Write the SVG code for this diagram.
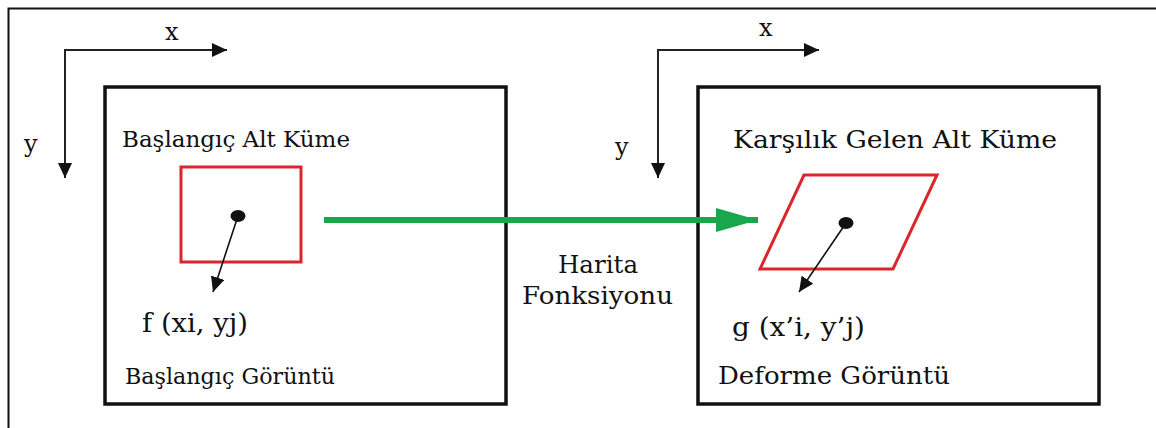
<svg xmlns="http://www.w3.org/2000/svg" width="1156" height="428" viewBox="0 0 1156 428">
<style>
text{font-family:'DejaVu Serif','Liberation Serif',serif;fill:#111;font-size:24px;}
.l{font-size:22.5px;}
.r{font-size:25px;}
.f{font-size:26px;}
.box{fill:none;stroke:#111;stroke-width:3.5;}
.ax{fill:none;stroke:#222;stroke-width:2;}
.red{fill:none;stroke:#d9262a;stroke-width:3;}
.pt{stroke:#111;stroke-width:1.6;fill:none;}
</style>
<defs>
<marker id="axh" viewBox="0 0 10 10" refX="10" refY="5" markerWidth="15" markerHeight="14" markerUnits="userSpaceOnUse" orient="auto" preserveAspectRatio="none"><path d="M0,0 L10,5 L0,10 z" fill="#111"/></marker>
<marker id="pth" viewBox="0 0 10 10" refX="10" refY="5" markerWidth="15" markerHeight="14" markerUnits="userSpaceOnUse" orient="auto" preserveAspectRatio="none"><path d="M0,0 L10,5 L0,10 z" fill="#111"/></marker>
<marker id="gh" viewBox="0 0 10 10" refX="10" refY="5" markerWidth="42" markerHeight="24" markerUnits="userSpaceOnUse" orient="auto" preserveAspectRatio="none"><path d="M0,0 L10,5 L0,10 z" fill="#1aa64a"/></marker>
</defs>
<rect width="1156" height="428" fill="#fff"/>
<polyline points="8.5,428 8.5,8.5 1156,8.5" fill="none" stroke="#111" stroke-width="2"/>

<g id="left-image">
<rect class="box" x="105" y="87" width="401" height="317"/>
<text class="l" x="122" y="147" textLength="228" lengthAdjust="spacingAndGlyphs">Başlangıç Alt Küme</text>
<rect class="red" x="181" y="167" width="120" height="95"/>
<text class="f" x="142" y="332" textLength="106" lengthAdjust="spacingAndGlyphs">f (xi, yj)</text>
<text class="l" x="125" y="384" textLength="210" lengthAdjust="spacingAndGlyphs">Başlangıç Görüntü</text>
</g>

<g id="left-axes">
<polyline class="ax" points="214,50 65,50 65,165"/>
<text x="165" y="40">x</text>
<text x="24" y="152">y</text>
</g>

<g id="right-image">
<rect class="box" x="698" y="87" width="401" height="317"/>
<text class="r" x="733" y="148" textLength="324" lengthAdjust="spacingAndGlyphs">Karşılık Gelen Alt Küme</text>
<polygon class="red" points="804,175 937,175 893,269 760,269"/>
<text class="f" x="732" y="336" textLength="133" lengthAdjust="spacingAndGlyphs">g (x’i, y’j)</text>
<text class="r" x="718" y="384" textLength="232" lengthAdjust="spacingAndGlyphs">Deforme Görüntü</text>
</g>

<g id="right-axes">
<polyline class="ax" points="806,50 658,50 658,165"/>
<text x="759" y="36">x</text>
<text x="615" y="155">y</text>
</g>

<g id="map-label">
<text class="r" x="558" y="273" textLength="80" lengthAdjust="spacingAndGlyphs">Harita</text>
<text class="r" x="522" y="304" textLength="151" lengthAdjust="spacingAndGlyphs">Fonksiyonu</text>
</g>

<g id="connectors">
<path d="M213,50 L227,50" stroke="#222" stroke-width="2" marker-end="url(#axh)"/>
<path d="M65,164 L65,178" stroke="#222" stroke-width="2" marker-end="url(#axh)"/>
<path d="M805,50 L819,50" stroke="#222" stroke-width="2" marker-end="url(#axh)"/>
<path d="M658,164 L658,178" stroke="#222" stroke-width="2" marker-end="url(#axh)"/>
<ellipse cx="238" cy="216" rx="7.5" ry="6" fill="#111"/>
<line class="pt" x1="238" y1="216" x2="213" y2="292" marker-end="url(#pth)"/>
<ellipse cx="846" cy="223" rx="7.5" ry="6" fill="#111"/>
<line class="pt" x1="846" y1="223" x2="799" y2="292" marker-end="url(#pth)"/>
<line x1="324" y1="220" x2="758" y2="220" stroke="#1aa64a" stroke-width="6" marker-end="url(#gh)"/>
</g>
</svg>
